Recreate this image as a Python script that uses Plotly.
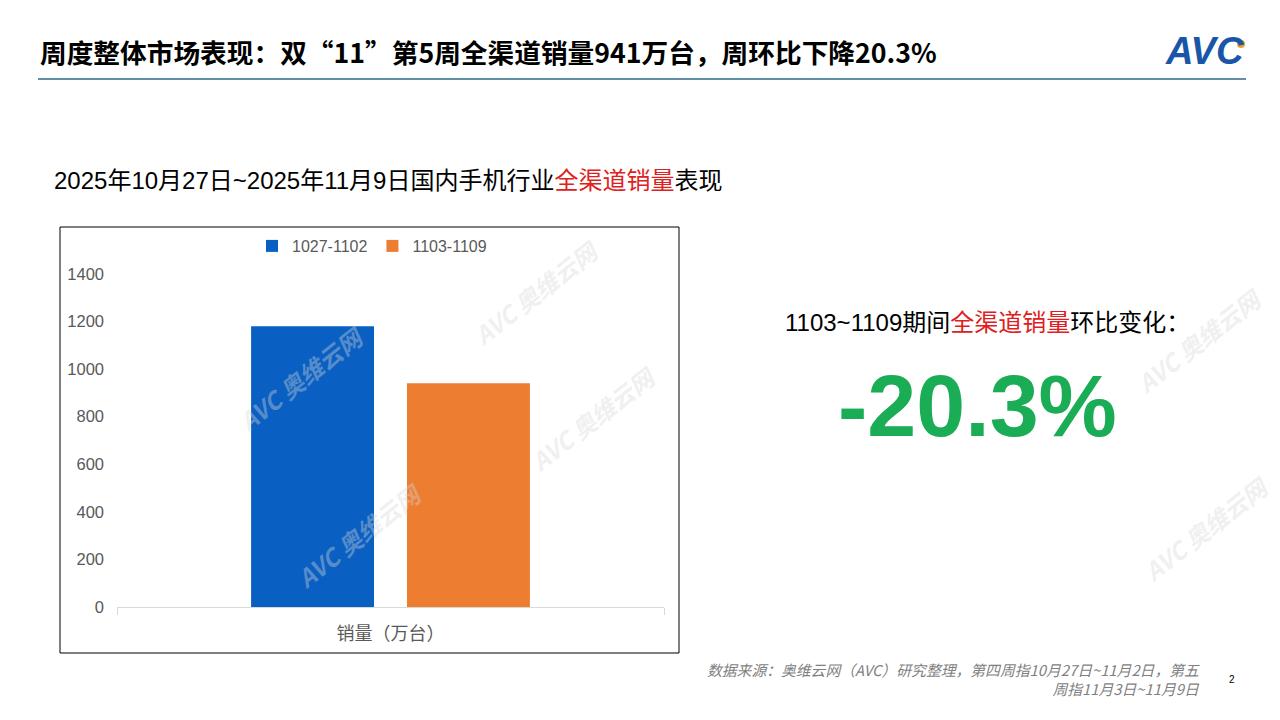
import plotly.graph_objects as go

categories = ["销量（万台）"]
series_names = ["1027-1102", "1103-1109"]
series_values = [[1180], [941]]
series_colors = ["#0a5fc2", "#ed7d31"]
y_ticks = [0, 200, 400, 600, 800, 1000, 1200, 1400]
change_text = "-20.3%"
watermark_text = "AVC 奥维云网"
watermark_spots = [(535, 292), (300, 378), (592, 418), (358, 535), (1198, 340), (1205, 528)]

W, H = 1280, 720
FONT = "Liberation Sans, Noto Sans CJK SC, Arial, sans-serif"
CJK = "Noto Sans CJK SC, Liberation Sans, sans-serif"

def px(x):
    return x / W

def py(y):
    return 1 - y / H

fig = go.Figure()
for name, vals, col in zip(series_names, series_values, series_colors):
    fig.add_trace(go.Bar(x=categories, y=vals, name=name, marker=dict(color=col, line=dict(width=0))))

fig.update_layout(
    width=W, height=H,
    margin=dict(l=0, r=0, t=0, b=0, pad=0, autoexpand=False),
    paper_bgcolor="white", plot_bgcolor="white",
    barmode="group", bargap=0.43, bargroupgap=0.2115,
    font=dict(family=FONT, color="#595959"),
    showlegend=True,
    legend=dict(orientation="h", x=px(372), y=py(246), xanchor="center", yanchor="middle",
                font=dict(size=16, color="#595959", family=FONT), itemwidth=30,
                bgcolor="rgba(0,0,0,0)"),
    xaxis=dict(domain=[px(117), px(664)], showline=True, linecolor="#d9d9d9", linewidth=1,
               ticks="outside", tickson="boundaries", ticklen=7, tickcolor="#d9d9d9",
               tickfont=dict(size=18, color="#595959", family=CJK), showgrid=False,
               ticklabelstandoff=10, automargin=False, fixedrange=True),
    yaxis=dict(domain=[py(607), py(274)], range=[0, 1400], tickvals=y_ticks,
               showgrid=False, showline=False, zeroline=False, ticks="",
               tickfont=dict(size=16.5, color="#595959", family=FONT),
               ticklabelstandoff=12, automargin=False, fixedrange=True),
)

shapes = [
    dict(type="rect", xref="paper", yref="paper", x0=px(60), x1=px(679), y0=py(653), y1=py(227),
         line=dict(color="#000000", width=1), fillcolor="rgba(0,0,0,0)", layer="below"),
    dict(type="line", xref="paper", yref="paper", x0=px(38), x1=px(1246), y0=py(79), y1=py(79),
         line=dict(color="#2b6a8a", width=1.5)),
    dict(type="circle", xref="paper", yref="paper", x0=px(1237), x1=px(1245), y0=py(48), y1=py(40),
         fillcolor="#f0a030", line=dict(width=0)),
]

annotations = [
    dict(text="<b>周度整体市场表现：双“11”第5周全渠道销量941万台，周环比下降20.3%</b>",
         x=px(38), y=py(52), xref="paper", yref="paper", xanchor="left", yanchor="middle",
         showarrow=False, font=dict(size=26.7, color="#000000", family=CJK)),
    dict(text="<b><i>AVC</i></b>", x=px(1246), y=py(51), xref="paper", yref="paper",
         xanchor="right", yanchor="middle", showarrow=False,
         font=dict(size=38, color="#1a56a8", family="Liberation Sans, Arial")),
    dict(text="2025年10月27日~2025年11月9日国内手机行业<span style='color:#e02020'>全渠道销量</span>表现",
         x=px(52), y=py(180), xref="paper", yref="paper", xanchor="left", yanchor="middle",
         showarrow=False, font=dict(size=24, color="#000000", family=FONT)),
    dict(text="1103~1109期间<span style='color:#e02020'>全渠道销量</span>环比变化：",
         x=px(783), y=py(322), xref="paper", yref="paper", xanchor="left", yanchor="middle",
         showarrow=False, font=dict(size=24, color="#000000", family=FONT)),
    dict(text="<b>" + change_text + "</b>", x=px(977), y=py(405), xref="paper", yref="paper",
         xanchor="center", yanchor="middle", showarrow=False,
         font=dict(size=88, color="#1aad55", family="Liberation Sans, Arial")),
    dict(text="<i>数据来源：奥维云网（AVC）研究整理，第四周指10月27日~11月2日，第五<br>周指11月3日~11月9日</i>",
         x=px(1202), y=py(679), xref="paper", yref="paper", xanchor="right", yanchor="middle",
         align="right", showarrow=False,
         font=dict(size=14.8, color="#7f7f7f", family=CJK)),
    dict(text="2", x=px(1232), y=py(679), xref="paper", yref="paper", xanchor="center",
         yanchor="middle", showarrow=False, font=dict(size=10, color="#000000", family=FONT)),
]

for (wx, wy) in watermark_spots:
    annotations.append(dict(text="<b><i>" + watermark_text + "</i></b>", x=px(wx), y=py(wy),
                            xref="paper", yref="paper", xanchor="center", yanchor="middle",
                            showarrow=False, textangle=-38,
                            font=dict(size=24, color="rgba(215,215,215,0.38)", family=CJK)))

fig.update_layout(shapes=shapes, annotations=annotations)
fig.write_html("out.html", config={"displayModeBar": False},
               post_script="document.body.style.margin='0';document.body.style.overflow='hidden';")
